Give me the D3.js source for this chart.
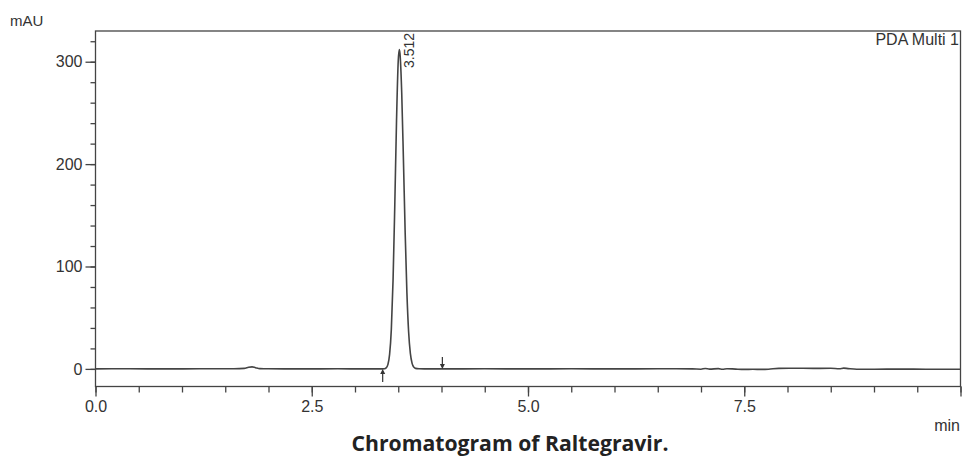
<!DOCTYPE html>
<html>
<head>
<meta charset="utf-8">
<script src="https://cdn.jsdelivr.net/npm/d3@7"></script>
<style>
  body { margin: 0; background: #fff; }
  svg { display: block; }
</style>
</head>
<body>
<svg id="chart" width="962" height="459"></svg>
<script>
// Detector trace (PDA Multi 1): retention time in minutes, absorbance in mAU
const traceTime = [0.00, 0.40, 0.80, 1.20, 1.60, 1.72, 1.77, 1.81, 1.85, 1.90, 2.00, 2.40, 2.80, 3.10,
  3.30, 3.34, 3.36, 3.38, 3.40, 3.42, 3.44, 3.46, 3.48, 3.50, 3.512, 3.52, 3.54, 3.56, 3.58, 3.60,
  3.62, 3.64, 3.66, 3.68, 3.70, 3.74, 3.80, 4.00, 4.50, 5.00, 5.50, 6.00, 6.50, 6.90, 7.00, 7.05,
  7.10, 7.20, 7.25, 7.30, 7.40, 7.50, 7.60, 7.70, 7.78, 7.90, 8.10, 8.30, 8.50, 8.60, 8.65, 8.70,
  8.80, 9.00, 9.30, 9.60, 10.00];
const traceMAU = [0.0, 0.1, 0.0, 0.1, 0.2, 0.5, 1.6, 2.0, 1.2, 0.3, 0.1, 0.0, 0.1, 0.0,
  0.0, 0.2, 1.0, 4.2, 14.1, 38.6, 86.8, 160, 242, 301, 312, 308, 270, 204, 133, 74.5,
  36.1, 15.1, 5.4, 1.7, 0.5, 0.1, 0.0, 0.0, 0.1, 0.0, 0.1, 0.0, 0.1, 0.0, -0.3, 0.4,
  -0.2, 0.3, -0.4, 0.2, -0.2, -0.5, -0.4, -0.5, -0.3, 0.5, 0.6, 0.5, 0.6, 0.2, 0.7, 0.3,
  -0.3, -0.3, -0.2, -0.3, -0.3];

// Labelled peak
const peakTimes = [3.512];
const peakLabels = ["3.512"];

// Integration start / end markers
const markerTimes = [3.32, 4.01];
const markerKinds = ["start", "end"];

// Axis ticks
const xMajorTicks = [0, 2.5, 5, 7.5, 10];
const xMajorLabels = ["0.0", "2.5", "5.0", "7.5", ""];
const xMinorTicks = d3.range(0, 10.01, 0.5);
const yMajorTicks = [0, 100, 200, 300];
const yMajorLabels = ["0", "100", "200", "300"];
const yMinorTicks = d3.range(0, 330, 20);

const yUnit = "mAU";
const xUnit = "min";
const channelName = "PDA Multi 1";
const caption = "Chromatogram of Raltegravir.";

const svg = d3.select("#chart");
const plotLeft = 95.5, plotRight = 960.5, plotTop = 31, plotBottom = 386.5;
const ink = "#444";
const axisFont = "'Liberation Sans', Arial, sans-serif";

const x = d3.scaleLinear().domain([0, 10]).range([plotLeft, plotRight]);
const y = d3.scaleLinear().domain([-17.2, 330]).range([plotBottom, plotTop]);

// Plot frame
svg.append("rect")
  .attr("x", plotLeft).attr("y", plotTop)
  .attr("width", plotRight - plotLeft).attr("height", plotBottom - plotTop)
  .attr("fill", "none").attr("stroke", ink).attr("stroke-width", 1.3);

function styleAxis(g) {
  g.select(".domain").remove();
  g.selectAll(".tick line").attr("stroke", ink).attr("stroke-width", 1.3);
  g.selectAll(".tick text")
    .attr("fill", "#333")
    .style("font-family", axisFont)
    .style("font-size", "16px");
}

// X axis: minor and major ticks
svg.append("g").attr("transform", `translate(0,${plotBottom})`)
  .call(d3.axisBottom(x).tickValues(xMinorTicks).tickSize(6).tickFormat(""))
  .call(styleAxis);
svg.append("g").attr("transform", `translate(0,${plotBottom})`)
  .call(d3.axisBottom(x).tickValues(xMajorTicks).tickSize(10).tickPadding(4)
    .tickFormat((d, i) => xMajorLabels[i]))
  .call(styleAxis);

// Y axis: minor and major ticks
svg.append("g").attr("transform", `translate(${plotLeft},0)`)
  .call(d3.axisLeft(y).tickValues(yMinorTicks).tickSize(5).tickFormat(""))
  .call(styleAxis);
svg.append("g").attr("transform", `translate(${plotLeft},0)`)
  .call(d3.axisLeft(y).tickValues(yMajorTicks).tickSize(10).tickPadding(3)
    .tickFormat((d, i) => yMajorLabels[i]))
  .call(styleAxis);

// Unit labels and channel name
svg.append("text").attr("x", 10).attr("y", 26)
  .attr("fill", "#333").style("font-family", axisFont).style("font-size", "15px")
  .text(yUnit);
svg.append("text").attr("x", 960).attr("y", 431).attr("text-anchor", "end")
  .attr("fill", "#333").style("font-family", axisFont).style("font-size", "16px")
  .text(xUnit);
svg.append("text").attr("x", 959).attr("y", 45).attr("text-anchor", "end")
  .attr("fill", "#333").style("font-family", axisFont).style("font-size", "16px")
  .text(channelName);

// Chromatogram trace
const points = traceTime.map((t, i) => [t, traceMAU[i]]);
svg.append("path")
  .datum(points)
  .attr("fill", "none")
  .attr("stroke", "#444")
  .attr("stroke-width", 1.6)
  .attr("stroke-linejoin", "round")
  .attr("d", d3.line().x(d => x(d[0])).y(d => y(d[1])).curve(d3.curveMonotoneX));

// Retention time label
peakTimes.forEach((t, i) => {
  const px = x(t) + 14.5, py = plotTop + 2;
  svg.append("text")
    .attr("transform", `translate(${px},${py}) rotate(-90)`)
    .attr("text-anchor", "end")
    .attr("fill", "#333")
    .style("font-family", axisFont).style("font-size", "14px")
    .text(peakLabels[i]);
});

// Integration markers: start arrow below the baseline, end arrow above it
markerTimes.forEach((t, i) => {
  const px = x(t), py = y(0);
  const g = svg.append("g").attr("stroke", "#333").attr("fill", "#333");
  if (markerKinds[i] === "start") {
    g.append("line").attr("x1", px).attr("x2", px).attr("y1", py + 13).attr("y2", py + 2)
      .attr("stroke-width", 1.2);
    g.append("path").attr("d", `M${px},${py} L${px - 2.5},${py + 5} L${px + 2.5},${py + 5} Z`)
      .attr("stroke", "none");
  } else {
    g.append("line").attr("x1", px).attr("x2", px).attr("y1", py - 12).attr("y2", py - 2)
      .attr("stroke-width", 1.2);
    g.append("path").attr("d", `M${px},${py} L${px - 2.5},${py - 5} L${px + 2.5},${py - 5} Z`)
      .attr("stroke", "none");
  }
});

// Caption, fitted to its line width
const cap = svg.append("text")
  .attr("x", 510).attr("y", 451)
  .attr("text-anchor", "middle")
  .attr("fill", "#222")
  .style("font-family", "'Open Sans', 'Noto Sans', sans-serif")
  .style("font-weight", "bold")
  .style("font-size", "18px")
  .text(caption);
const w = cap.node().getComputedTextLength();
if (w > 0) cap.style("font-size", (18 * 317 / w).toFixed(2) + "px");
</script>
</body>
</html>
